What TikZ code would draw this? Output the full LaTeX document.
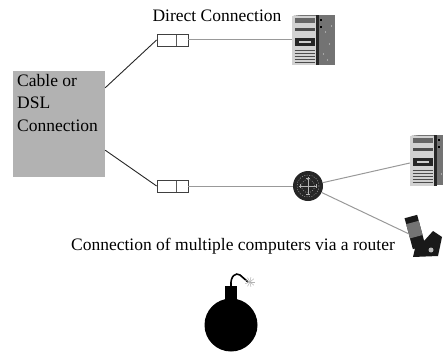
\documentclass[tikz,border=0pt]{standalone}
\usepackage{fontspec}
\setmainfont{Liberation Serif}
\usepackage{tikz}

\begin{document}
\begin{tikzpicture}[x=1pt, y=1pt,
    every node/.style={font=\fontsize{17.5}{22.5}\selectfont, inner sep=0pt},
    ispbox/.style={rectangle, fill=gray!60, minimum width=92pt, minimum height=106pt},
    plug/.style={rectangle, draw=black!75, line width=0.8pt, fill=white,
        minimum width=31pt, minimum height=12pt,
        path picture={\draw[black!65] ([xshift=19pt]path picture bounding box.south west)
            -- ([xshift=19pt]path picture bounding box.north west);}},
    tower/.style={rectangle, fill=black!55, minimum width=43pt, minimum height=50pt,
        path picture={\begin{scope}[shift={(path picture bounding box.center)}]
            \fill[gray!35] (-22,-26) rectangle (2,24);
            \fill[white] (-22,24) -- (4,27) -- (-22,27) -- cycle;
            \fill[black!85] (2,-26) rectangle (5,25);
            \fill[black!60] (-19,17) rectangle (1,22);
            \fill[black!70] (-19,9) rectangle (1,12);
            \fill[black!85] (-19,-6) rectangle (1,2);
            \fill[gray!40] (-15,-3) rectangle (-3,-1);
            \foreach \y in {-10,-13,-16,-19,-22}
                \draw[black!70, line width=0.8pt] (-19,\y) -- (1,\y);
            \foreach \y in {19,12}
                \fill[black] (6,\y) rectangle (8,\y+2);
            \foreach \p in {(12,8),(16,-4),(10,-14),(18,14),(14,-20)}
                \fill[gray!30] \p circle (0.7);
        \end{scope}}},
    hub/.style={circle, fill=black!85, minimum size=30pt,
        path picture={\begin{scope}[shift={(path picture bounding box.center)}]
            \draw[gray!55, dash pattern=on 1pt off 1.5pt] (0,0) circle (11) (0,0) circle (6.5);
            \draw[gray!60, line width=0.8pt] (0,-9) -- (0,9) (-9,0) -- (9,0)
                (-2,8) -- (2,8) (-2,-8) -- (2,-8) (-8,-2) -- (-8,2) (8,-2) -- (8,2);
        \end{scope}}},
    handheld/.style={rectangle, fill=black!90, minimum width=13pt, minimum height=32pt,
        path picture={\fill[black!55] ([shift={(3pt,9pt)}]path picture bounding box.south west)
            rectangle ([shift={(-3pt,-4pt)}]path picture bounding box.north east);
            \foreach \y in {12,17,22}
                \fill[gray!45] ([shift={(4pt,\y pt)}]path picture bounding box.south west) rectangle ++(4pt,2pt);}},
    bomb/.style={circle, fill=black, minimum size=53pt},
    cable/.style={black!85, line width=0.9pt},
    link/.style={gray!80, line width=1pt}
]
\useasboundingbox (0,0) rectangle (443,354);

\node[ispbox] (isp) at (59,230) {};
\node[anchor=north west, align=left] (ispText) at (17,280) {Cable or\\DSL\\Connection};

\node[plug] (plug1) at (172.5,314) {};
\node[plug] (plug2) at (172.5,168) {};
\node[tower] (server1) at (313.5,314) {};
\node[anchor=base] (direct) at (217,332) {Direct Connection};

\node[hub] (router) at (308,168) {};
\node[tower] (server2) at (431.5,194) {};
\node[handheld, rotate=15] (pda) at (415,122) {};
\fill[black!90] (413,97) -- (438,98) -- (442,117) -- (433,123) -- (424,113) -- (416,110) -- cycle;
\fill[gray!55] (431,104) circle (2.5);
\node[anchor=base] (multi) at (233,104) {Connection of multiple computers via a router};

\draw[cable] ([yshift=-17pt]isp.north east) -- (plug1.west);
\draw[cable] ([yshift=27pt]isp.south east) -- (plug2.west);
\draw[link] (plug1.east) -- (server1.west);
\draw[link] (plug2.east) -- (router.west);
\draw[link] (router) -- ([yshift=-3pt]server2.west);
\draw[link] (router) -- (pda.west);

\node[bomb] (bomb) at (231,29) {};
\fill[black] (224.5,50) rectangle (237,68);
\draw[black, line width=1.6pt] (231,68) .. controls (230,78) and (236,82) .. (240,79)
    .. controls (243,77) and (245,74) .. (248,72);
\foreach \a in {0,40,...,320}
    \draw[gray!60, line width=0.5pt] (250,72) -- ++(\a:5);
\end{tikzpicture}
\end{document}
